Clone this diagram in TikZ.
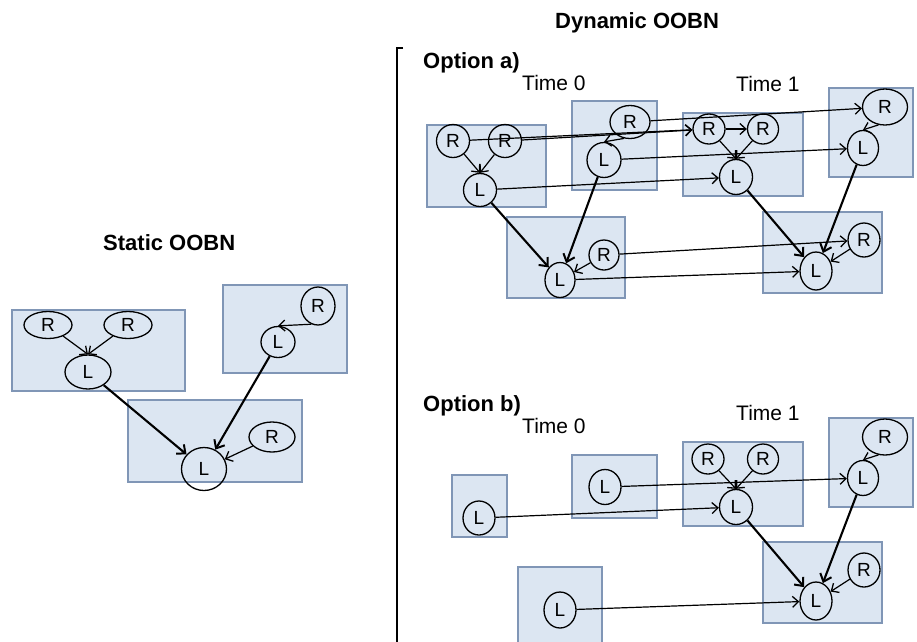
\documentclass[tikz,border=0pt]{standalone}
\usepackage{fontspec}
\setmainfont{Liberation Sans}
\usetikzlibrary{shapes.geometric,arrows.meta}
\definecolor{boxfill}{RGB}{220,230,242}
\definecolor{boxline}{RGB}{128,150,182}
\tikzset{
  bx/.style={fill=boxfill,draw=boxline,line width=1.2pt},
  nd/.style={ellipse,draw,line width=1.3pt,inner sep=0pt,minimum width=33pt,minimum height=33pt,font=\fontsize{19}{19}\selectfont},
  arr/.style={-{Straight Barb[length=6pt,width=11pt,line width=1.3pt]},line width=1.2pt},
  thk/.style={-{Straight Barb[length=7pt,width=12pt,line width=2pt]},line width=2.1pt},
  ttl/.style={anchor=base west,inner sep=0pt,font=\fontsize{22}{22}\selectfont\bfseries},
  tm/.style={anchor=base west,inner sep=0pt,font=\fontsize{21}{21}\selectfont}
}
\begin{document}
\begin{tikzpicture}[x=1pt,y=-1pt]
\useasboundingbox (0,0) rectangle (917,641);
\fill[white] (0,0) rectangle (917,641);

% ---------------- titles ----------------
\node[ttl] (tStatic) at (103,250) {Static OOBN};
\node[ttl] (tDyn) at (555,28) {Dynamic OOBN};
\node[ttl] (tOa) at (423,68) {Option a)};
\node[ttl] (tOb) at (423,411) {Option b)};
\node[tm] (tA0) at (522,90) {Time 0};
\node[tm] (tA1) at (736,91) {Time 1};
\node[tm] (tB0) at (522,433) {Time 0};
\node[tm] (tB1) at (736,420) {Time 1};

% bracket
\draw[line width=1.5pt] (403,48) -- (397,48) -- (397,645);

% ---------------- static ----------------
\draw[bx] (12,310) rectangle (185,391);
\draw[bx] (223,285) rectangle (347,373);
\draw[bx] (128,400) rectangle (302,482);
\node[nd,minimum width=48pt,minimum height=27pt] (sR1) at (48,325) {R};
\node[nd,minimum width=48pt,minimum height=27pt] (sR2) at (128,325) {R};
\node[nd,minimum width=46pt,minimum height=34pt] (sL1) at (88,372) {L};
\node[nd,minimum width=34pt,minimum height=38pt] (sRB) at (318,306) {R};
\node[nd,minimum width=34pt,minimum height=31pt] (sLB) at (278,342) {L};
\node[nd,minimum width=46pt,minimum height=30pt] (sRC) at (272,437) {R};
\node[nd,minimum width=45pt,minimum height=43pt] (sLC) at (204,469) {L};
\draw[arr] (sR1) -- (sL1.north);
\draw[arr] (sR2) -- (sL1.north);
\draw[arr] (sRB.250) -- (sLB.north);
\draw[thk] (sL1) -- (sLC);
\draw[thk] (sLB) -- (sLC);
\draw[arr] (sRC) -- (sLC);

% ---------------- option a, time 0 ----------------
\draw[bx] (427,125) rectangle (546,207);
\draw[bx] (572,101) rectangle (657,190);
\draw[bx] (507,217) rectangle (625,298);
\node[nd] (Ra11) at (453,141) {R};
\node[nd] (Ra12) at (505,141) {R};
\node[nd] (La1) at (480,190) {L};
\node[nd,minimum width=40pt,minimum height=33pt] (Ra2) at (630,122) {R};
\node[nd,minimum width=34pt,minimum height=35pt] (La2) at (604,160) {L};
\node[nd,minimum width=30pt,minimum height=30pt] (Ra3) at (604,255) {R};
\node[nd,minimum width=30pt,minimum height=35pt] (La3) at (560,280) {L};

% ---------------- option a, time 1 ----------------
\draw[bx] (683,113) rectangle (803,196);
\draw[bx] (829,88) rectangle (913,177);
\draw[bx] (763,212) rectangle (882,293);
\node[nd,minimum width=32pt,minimum height=30pt] (Ra41) at (709,129) {R};
\node[nd,minimum width=31pt,minimum height=30pt] (Ra42) at (763,129) {R};
\node[nd,minimum width=33pt,minimum height=35pt] (La4) at (736,177) {L};
\node[nd,minimum width=45pt,minimum height=36pt] (Ra5) at (885,107) {R};
\node[nd,minimum width=31pt,minimum height=35pt] (La5) at (863,148) {L};
\node[nd,minimum width=32pt,minimum height=34pt] (Ra6) at (864,240) {R};
\node[nd,minimum width=32pt,minimum height=38pt] (La6) at (816,271) {L};

% intra-slice arrows, option a
\draw[arr] (Ra11) -- (La1.north);
\draw[arr] (Ra12) -- (La1.north);
\draw[arr] (Ra2.250) -- (La2.north);
\draw[thk] (La1) -- (La3);
\draw[thk] (La2) -- (La3);
\draw[arr] (Ra3) -- (La3);
\draw[arr] (Ra41) -- (Ra42);
\draw[arr] (Ra41) -- (La4.north);
\draw[arr] (Ra42) -- (La4.north);
\draw[arr] (Ra5.250) -- (La5.north);
\draw[thk] (La4) -- (La6);
\draw[thk] (La5) -- (La6);
\draw[arr] (Ra6) -- (La6);
% inter-slice arrows, option a
\draw[arr] (Ra11) -- (Ra41);
\draw[arr] (Ra12) -- (Ra41);
\draw[arr] (Ra2) -- (Ra5);
\draw[arr] (La2) -- (La5);
\draw[arr] (La1) -- (La4);
\draw[arr] (Ra3) -- (Ra6);
\draw[arr] (La3) -- (La6);

% ---------------- option b, time 0 ----------------
\draw[bx] (452,475) rectangle (507,537);
\draw[bx] (572,455) rectangle (657,518);
\draw[bx] (518,567) rectangle (602,660);
\node[nd,minimum width=32pt,minimum height=34pt] (Lb1) at (479,518) {L};
\node[nd,minimum width=32pt,minimum height=35pt] (Lb2) at (605,487) {L};
\node[nd,minimum width=32pt,minimum height=36pt] (Lb3) at (560,610) {L};

% ---------------- option b, time 1 ----------------
\draw[bx] (683,442) rectangle (803,526);
\draw[bx] (829,418) rectangle (913,507);
\draw[bx] (763,542) rectangle (882,623);
\node[nd,minimum width=32pt,minimum height=30pt] (Rb41) at (708,459) {R};
\node[nd,minimum width=31pt,minimum height=30pt] (Rb42) at (763,459) {R};
\node[nd,minimum width=33pt,minimum height=35pt] (Lb4) at (736,507) {L};
\node[nd,minimum width=45pt,minimum height=36pt] (Rb5) at (885,437) {R};
\node[nd,minimum width=31pt,minimum height=35pt] (Lb5) at (863,478) {L};
\node[nd,minimum width=32pt,minimum height=34pt] (Rb6) at (864,570) {R};
\node[nd,minimum width=32pt,minimum height=38pt] (Lb6) at (816,601) {L};

\draw[arr] (Rb41) -- (Lb4.north);
\draw[arr] (Rb42) -- (Lb4.north);
\draw[arr] (Rb5.250) -- (Lb5.north);
\draw[thk] (Lb4) -- (Lb6);
\draw[thk] (Lb5) -- (Lb6);
\draw[arr] (Rb6) -- (Lb6);
\draw[arr] (Lb2) -- (Lb5);
\draw[arr] (Lb1) -- (Lb4);
\draw[arr] (Lb3) -- (Lb6);
\end{tikzpicture}
\end{document}
